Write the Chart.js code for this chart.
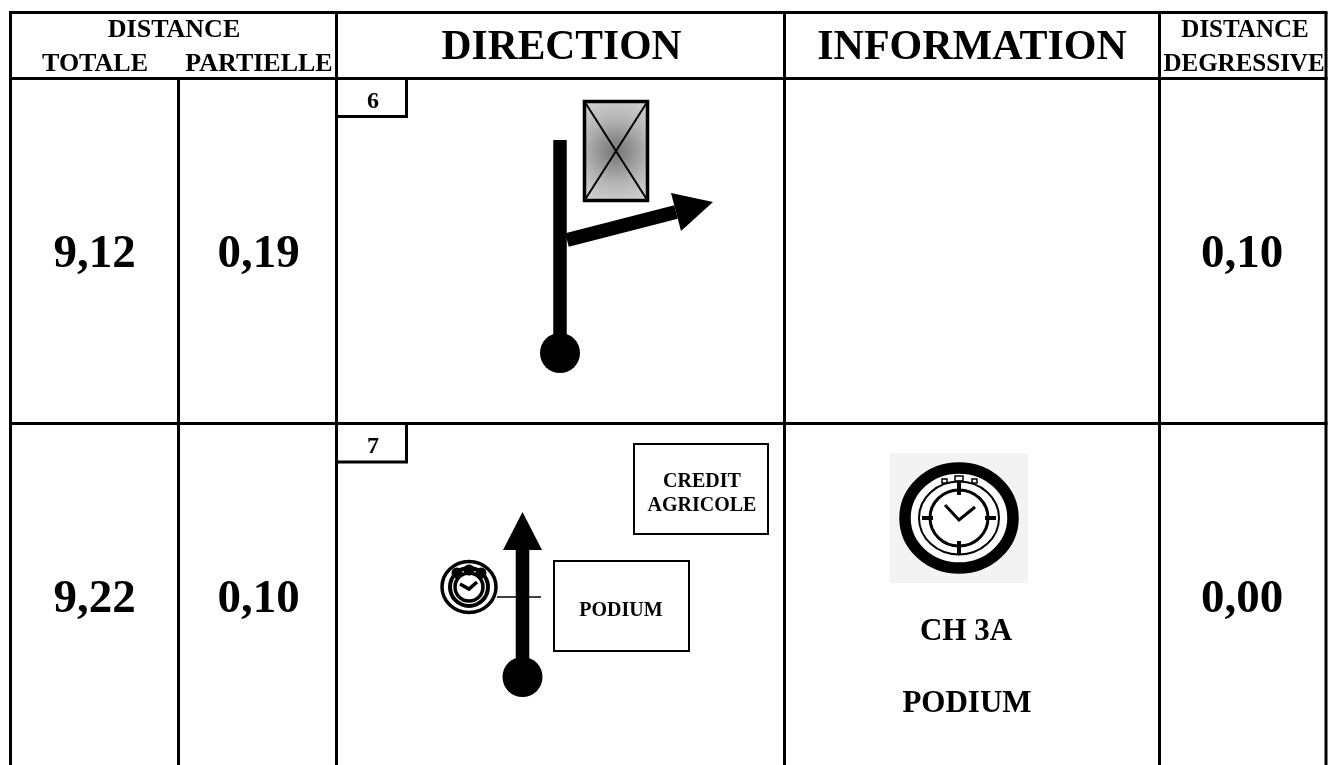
<!DOCTYPE html>
<html lang="fr">
<head>
<meta charset="utf-8">
<title>Road book</title>
<script src="https://cdn.jsdelivr.net/npm/chart.js@4/dist/chart.umd.min.js"></script>
<style>
  html, body { margin: 0; padding: 0; background: #fff; }
  canvas { display: block; }
</style>
</head>
<body>
<canvas id="roadbook" width="1328" height="765"></canvas>
<script>
// Textes du tableau
const headers = ["DISTANCE", "TOTALE", "PARTIELLE", "DIRECTION", "INFORMATION", "DISTANCE", "DEGRESSIVE"];
const totals = ["9,12", "9,22"];
const partials = ["0,19", "0,10"];
const remaining = ["0,10", "0,00"];
const stepNumbers = ["6", "7"];
const boxLabels = ["CREDIT", "AGRICOLE", "PODIUM"];
const infoLabels = ["CH 3A", "PODIUM"];

// Repère du tableau (coordonnées de la feuille)
const columnLines = [10.5, 178.5, 336.5, 784.5, 1159.5, 1326];
const rowLines = [12.5, 78.5, 423.5];
const pageBottom = 765;

// Tracés des schémas, en coordonnées de la feuille
const stepBoxes = [
  [[336.5, 116.5], [406.5, 116.5], [406.5, 78.5]],
  [[336.5, 462], [406.5, 462], [406.5, 423.5]]
];
const post6 = [[560, 140], [560, 345]];
const branch6 = [[567, 240], [676, 212]];
const head6 = [[671, 193], [713, 202], [681, 231], [671, 193]];
const building = [[584.5, 101.5], [647.5, 101.5], [647.5, 200.5], [584.5, 200.5], [584.5, 101.5]];
const buildingCross = [[[584.5, 101.5], [647.5, 200.5]], [[647.5, 101.5], [584.5, 200.5]]];
const post7 = [[522.5, 548], [522.5, 665]];
const head7 = [[522.5, 512], [542, 550], [503, 550], [522.5, 512]];
const crossing7 = [[497, 597], [541, 597]];
const creditBox = [[634, 444], [768, 444], [768, 534], [634, 534], [634, 444]];
const podiumBox = [[554, 561], [689, 561], [689, 651], [554, 651], [554, 561]];
const balls = [[560, 353], [522.5, 677]];
const smallClockAt = [[469, 587]];
const bigClockAt = [[959, 518]];

const toPoints = list => list.map(p => ({ x: p[0], y: p[1] }));

function stroke(points, width) {
  return {
    data: toPoints(points),
    borderColor: "#000",
    borderWidth: width,
    borderCapStyle: "butt",
    borderJoinStyle: "miter",
    pointRadius: 0,
    tension: 0,
    fill: false
  };
}

function frame(points, width) {
  const d = stroke(points, width);
  d.borderCapStyle = "square";
  return d;
}

function polygon(points) {
  return {
    data: toPoints(points),
    borderWidth: 0,
    borderColor: "#000",
    backgroundColor: "#000",
    pointRadius: 0,
    tension: 0,
    fill: "shape"
  };
}

// Icône chronomètre, dessinée à part et posée comme un point du graphique
function ring(ctx, cx, cy, rx, ry, width) {
  ctx.lineWidth = width;
  ctx.beginPath();
  ctx.ellipse(cx, cy, rx, ry, 0, 0, Math.PI * 2);
  ctx.stroke();
}

function bigClock() {
  const c = document.createElement("canvas");
  c.width = 138;
  c.height = 130;
  const ctx = c.getContext("2d");
  ctx.fillStyle = "#f3f3f3";
  ctx.fillRect(0, 0, 138, 130);
  ctx.fillStyle = "#fff";
  ctx.beginPath();
  ctx.ellipse(69, 65, 58, 54, 0, 0, Math.PI * 2);
  ctx.fill();
  ctx.filter = "blur(0.5px)";
  ctx.strokeStyle = "#000";
  ctx.fillStyle = "#000";
  const cx = 69, cy = 65;
  ring(ctx, cx, cy, 54, 50, 11.5);
  ring(ctx, cx, cy, 40, 36.5, 2);
  ring(ctx, cx, cy, 29, 28, 3);
  ctx.lineWidth = 4;
  [[0, -36, 0, -23], [0, 36, 0, 23], [-37, 0, -26, 0], [37, 0, 26, 0]].forEach(t => {
    ctx.beginPath();
    ctx.moveTo(cx + t[0], cy + t[1]);
    ctx.lineTo(cx + t[2], cy + t[3]);
    ctx.stroke();
  });
  ctx.lineWidth = 3;
  ctx.beginPath();
  ctx.moveTo(cx - 14, cy - 13);
  ctx.lineTo(cx, cy + 2);
  ctx.lineTo(cx + 16, cy - 11);
  ctx.stroke();
  ctx.lineWidth = 1.5;
  ctx.strokeRect(cx - 4, cy - 42, 8, 5);
  ctx.strokeRect(cx - 17, cy - 39, 5, 4);
  ctx.strokeRect(cx + 13, cy - 39, 5, 4);
  return c;
}

function smallClock() {
  const c = document.createElement("canvas");
  c.width = 60;
  c.height = 58;
  const ctx = c.getContext("2d");
  ctx.filter = "blur(0.3px)";
  ctx.strokeStyle = "#000";
  ctx.fillStyle = "#000";
  const cx = 30, cy = 29;
  ring(ctx, cx, cy, 27, 25.5, 3.5);
  ring(ctx, cx, cy, 19, 19, 4);
  ring(ctx, cx, cy, 14, 14, 3.5);
  [[-12, -14], [0, -17], [12, -14]].forEach(b => {
    ctx.beginPath();
    ctx.arc(cx + b[0], cy + b[1], 5.5, 0, Math.PI * 2);
    ctx.fill();
  });
  ctx.lineWidth = 3.5;
  ctx.beginPath();
  ctx.moveTo(cx - 9, cy - 3);
  ctx.lineTo(cx, cy + 2);
  ctx.lineTo(cx + 8, cy - 5);
  ctx.stroke();
  return c;
}

// Lignes du tableau
const grid = [
  frame([[columnLines[0], rowLines[0]], [columnLines[5], rowLines[0]]], 3),
  frame([[columnLines[0], rowLines[1]], [columnLines[5], rowLines[1]]], 3),
  frame([[columnLines[0], rowLines[2]], [columnLines[5], rowLines[2]]], 3),
  stroke([[columnLines[0], rowLines[0]], [columnLines[0], pageBottom]], 3),
  stroke([[columnLines[1], rowLines[1]], [columnLines[1], pageBottom]], 3),
  stroke([[columnLines[2], rowLines[0]], [columnLines[2], pageBottom]], 3),
  stroke([[columnLines[3], rowLines[0]], [columnLines[3], pageBottom]], 3),
  stroke([[columnLines[4], rowLines[0]], [columnLines[4], pageBottom]], 3),
  stroke([[columnLines[5], rowLines[0]], [columnLines[5], pageBottom]], 3)
];

const buildingFill = frame(building, 3.5);
buildingFill.fill = "shape";
buildingFill.backgroundColor = function (context) {
  const g = context.chart.ctx.createRadialGradient(616, 151, 4, 616, 151, 55);
  g.addColorStop(0, "#7c7c7c");
  g.addColorStop(0.55, "#b4b4b4");
  g.addColorStop(1, "#d2d2d2");
  return g;
};

const drawing = [
  ...grid,
  stroke(stepBoxes[0], 3),
  stroke(stepBoxes[1], 3),
  buildingFill,
  stroke(buildingCross[0], 2),
  stroke(buildingCross[1], 2),
  stroke(post6, 13.5),
  stroke(branch6, 14),
  polygon(head6),
  stroke(post7, 13.5),
  polygon(head7),
  stroke(crossing7, 1.5),
  frame(creditBox, 2),
  frame(podiumBox, 2),
  {
    data: toPoints(balls),
    showLine: false,
    pointRadius: 20,
    pointBorderWidth: 0,
    pointBackgroundColor: "#000"
  },
  {
    data: toPoints(smallClockAt),
    showLine: false,
    pointRadius: 1,
    pointStyle: smallClock()
  },
  {
    data: toPoints(bigClockAt),
    showLine: false,
    pointRadius: 1,
    pointStyle: bigClock()
  }
];

// Emplacement et corps de chaque texte
const placed = [
  [headers[0], 174, 37, 26],
  [headers[1], 95, 71, 26],
  [headers[2], 259, 71, 26],
  [headers[3], 561.5, 59, 41.5],
  [headers[4], 972, 59, 42],
  [headers[5], 1245, 37, 25],
  [headers[6], 1244, 71, 25],
  [totals[0], 94.5, 267, 47],
  [partials[0], 258.5, 267, 47],
  [remaining[0], 1242, 267, 47],
  [totals[1], 94.5, 612, 47],
  [partials[1], 258.5, 612, 47],
  [remaining[1], 1242, 612, 47],
  [stepNumbers[0], 373, 108, 24],
  [stepNumbers[1], 373, 453, 24],
  [boxLabels[0], 702, 487, 20],
  [boxLabels[1], 702, 511, 20],
  [boxLabels[2], 621, 616, 20],
  [infoLabels[0], 966, 640, 31],
  [infoLabels[1], 967, 712, 31]
];

const textPlugin = {
  id: "tableText",
  afterDatasetsDraw(chart) {
    const ctx = chart.ctx;
    const sx = chart.scales.x, sy = chart.scales.y;
    ctx.save();
    ctx.fillStyle = "#000";
    ctx.textAlign = "center";
    ctx.textBaseline = "alphabetic";
    placed.forEach(p => {
      ctx.font = "bold " + p[3] + "px 'Liberation Serif', 'Times New Roman', serif";
      ctx.fillText(p[0], sx.getPixelForValue(p[1]), sy.getPixelForValue(p[2]));
    });
    ctx.restore();
  }
};

new Chart(document.getElementById("roadbook").getContext("2d"), {
  type: "line",
  data: { datasets: drawing.reverse() }, // le premier jeu est dessiné au-dessus
  options: {
    responsive: false,
    animation: false,
    events: [],
    layout: { padding: 0, autoPadding: false },
    plugins: { legend: { display: false }, tooltip: { enabled: false }, title: { display: false } },
    scales: {
      x: { type: "linear", display: false, min: 0, max: 1328 },
      y: { type: "linear", display: false, min: 0, max: 765, reverse: true }
    }
  },
  plugins: [textPlugin]
});
</script>
</body>
</html>
